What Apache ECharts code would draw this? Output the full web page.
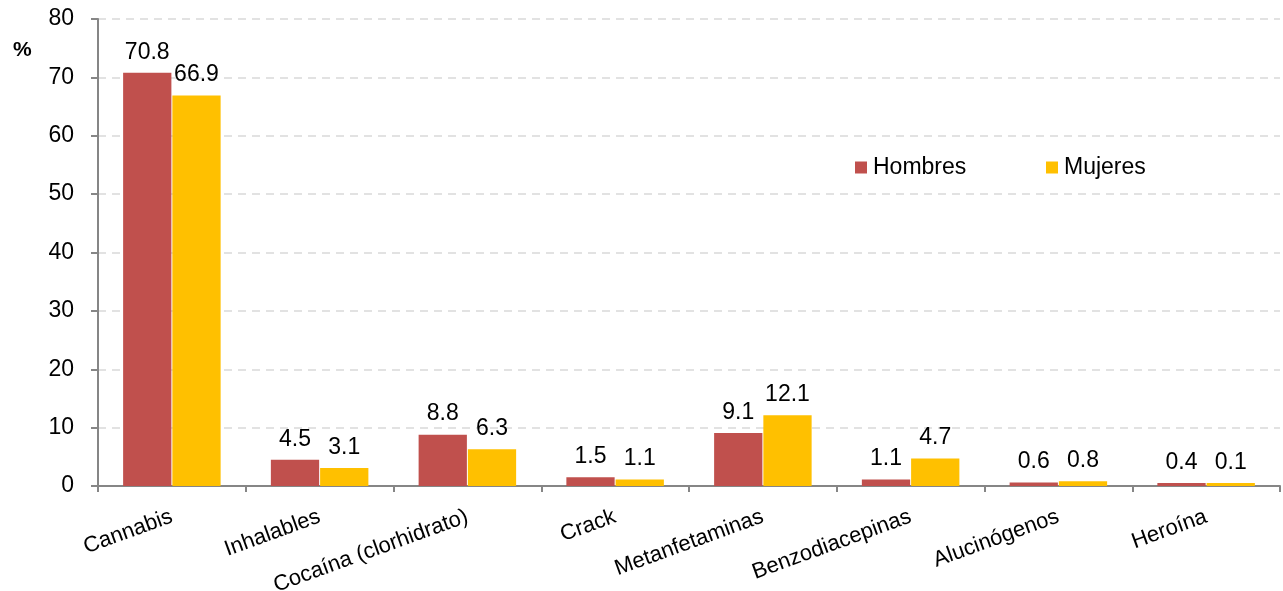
<!DOCTYPE html>
<html><head><meta charset="utf-8">
<script src="https://cdn.jsdelivr.net/npm/echarts@6/dist/echarts.min.js"></script>
<style>html,body{margin:0;padding:0;background:#fff}#c{width:1283px;height:591px}</style>
</head><body><div id="c"></div>
<script>
const categories = ["Cannabis","Inhalables","Cocaína (clorhidrato)","Crack","Metanfetaminas","Benzodiacepinas","Alucinógenos","Heroína"];
const hombres = [70.8,4.5,8.8,1.5,9.1,1.1,0.6,0.4];
const mujeres = [66.9,3.1,6.3,1.1,12.1,4.7,0.8,0.1];
const seriesNames = ["Hombres","Mujeres"];
const yTicks = {min:0,max:80,interval:10};

const chart = echarts.init(document.getElementById('c'));
const font = 'Liberation Sans, Arial, sans-serif';
const lbl = {show:true,position:'top',color:'#000',fontSize:23,fontFamily:font,distance:9,formatter:p=>p.value.toFixed(1)};
const legText = {fontSize:23,fontFamily:font,color:'#000',padding:[0,0,0,1]};
chart.setOption({
  animation:false,
  grid:{left:98,right:3,top:19,bottom:105,outerBoundsMode:'none',containLabel:false},
  legend:[
    {data:[seriesNames[0]],left:855,top:156,padding:0,itemWidth:12,itemHeight:12,icon:'rect',textStyle:legText},
    {data:[seriesNames[1]],left:1046,top:156,padding:0,itemWidth:12,itemHeight:12,icon:'rect',textStyle:legText}
  ],
  graphic:[{type:'text',left:13,top:40,style:{text:'%',font:'bold 21px '+font,fill:'#000'}}],
  xAxis:{type:'category',data:categories,
    axisLine:{lineStyle:{color:'#868686',width:2}},
    axisTick:{show:true,length:6,lineStyle:{color:'#868686',width:2}},
    axisLabel:{rotate:20,fontSize:22,fontFamily:font,color:'#000',margin:30,interval:0}},
  yAxis:{type:'value',min:yTicks.min,max:yTicks.max,interval:yTicks.interval,
    axisLine:{show:true,lineStyle:{color:'#868686',width:2}},
    axisTick:{show:true,length:7,lineStyle:{color:'#868686',width:2}},
    axisLabel:{fontSize:23,fontFamily:font,color:'#000',margin:24},
    splitLine:{lineStyle:{color:'#d9d9d9',type:[8,6],width:1.5}}},
  series:[
    {name:seriesNames[0],type:'bar',data:hombres,barGap:'2%',barCategoryGap:'34%',barMinHeight:3,
      itemStyle:{color:'#C0504D'},label:lbl},
    {name:seriesNames[1],type:'bar',data:mujeres,barMinHeight:3,
      itemStyle:{color:'#FFC000'},label:lbl}
  ]
});
</script></body></html>
